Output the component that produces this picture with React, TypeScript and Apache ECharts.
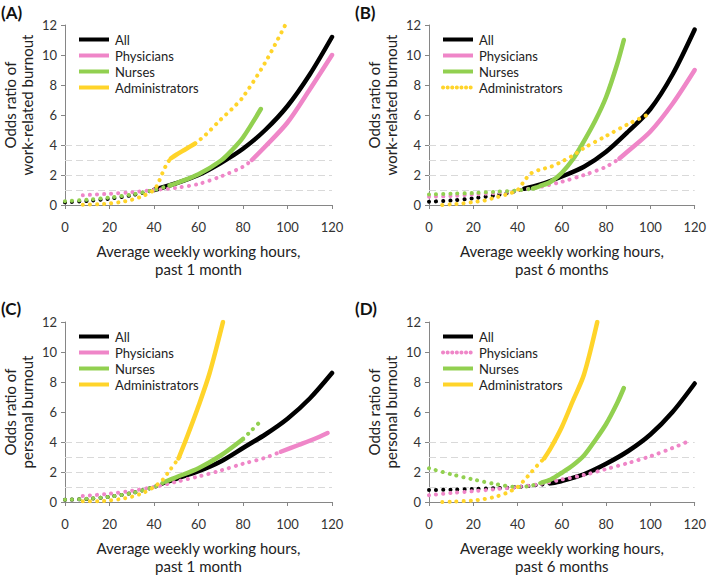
import React, { useEffect, useRef } from "react";
import * as echarts from "echarts";

type Pt = [number, number];

// ---- Shared labels ----
const groupNames = ["All", "Physicians", "Nurses", "Administrators"];
const groupColors = ["#000000", "#EF86C8", "#92D050", "#FFD42A"];
const panelKeys = ["A", "B", "C", "D"];
const panelTitles = ["(A)", "(B)", "(C)", "(D)"];
const yNames = [
  "Odds ratio of\nwork-related burnout",
  "Odds ratio of\nwork-related burnout",
  "Odds ratio of\npersonal burnout",
  "Odds ratio of\npersonal burnout",
];
const xNames = [
  "Average weekly working hours,\npast 1 month",
  "Average weekly working hours,\npast 6 months",
  "Average weekly working hours,\npast 1 month",
  "Average weekly working hours,\npast 6 months",
];
const refLevels = [1, 2, 3, 4];

// ---- Panel A: work-related burnout, past 1 month ----
const A_all: Pt[] = [[0,0.18],[10,0.27],[20,0.42],[30,0.65],[40,1.0],[50,1.45],[60,2.0],[70,2.8],[80,3.75],[90,5.0],[100,6.6],[110,8.7],[120,11.2]];
const A_allSolid: Pt[] = [[40,120]];
const A_phy: Pt[] = [[8,0.65],[20,0.75],[30,0.85],[40,1.0],[50,1.15],[60,1.4],[70,1.9],[80,2.55],[84,3.0],[90,3.9],[100,5.5],[110,7.7],[120,10.0]];
const A_phySolid: Pt[] = [[84,120]];
const A_nur: Pt[] = [[0,0.25],[10,0.35],[20,0.5],[30,0.7],[40,1.0],[47,1.3],[50,1.45],[60,2.05],[70,2.95],[75,3.65],[80,4.5],[88,6.4]];
const A_nurSolid: Pt[] = [[47,88]];
const A_adm: Pt[] = [[8,0.02],[15,0.05],[20,0.1],[25,0.2],[30,0.35],[35,0.6],[40,1.0],[42,1.5],[44,2.2],[46,2.8],[47.5,3.1],[50,3.35],[54,3.7],[58.5,4.1],[63,4.65],[70,5.7],[75,6.4],[80,7.2],[90,9.5],[99,12.0]];
const A_admSolid: Pt[] = [[47.5,58.5]];

// ---- Panel B: work-related burnout, past 6 months ----
const B_all: Pt[] = [[0,0.22],[10,0.3],[20,0.45],[30,0.65],[40,0.95],[43,1.08],[50,1.35],[60,1.9],[70,2.55],[80,3.55],[90,4.9],[100,6.4],[110,8.7],[120,11.7]];
const B_allSolid: Pt[] = [[43,120]];
const B_phy: Pt[] = [[0,0.55],[10,0.6],[20,0.7],[30,0.8],[40,0.97],[50,1.2],[60,1.55],[70,2.0],[80,2.55],[86,3.1],[90,3.6],[100,4.9],[110,6.75],[120,9.0]];
const B_phySolid: Pt[] = [[86,120]];
const B_nur: Pt[] = [[0,0.7],[10,0.75],[20,0.8],[30,0.88],[40,0.97],[47,1.1],[50,1.25],[55,1.55],[60,2.15],[65,3.05],[69,4.0],[75,5.6],[80,7.2],[85,9.4],[88,11.0]];
const B_nurSolid: Pt[] = [[47,88]];
const B_adm: Pt[] = [[6,0.0],[10,0.05],[15,0.1],[20,0.2],[25,0.3],[30,0.5],[35,0.7],[40,1.0],[43,1.6],[46,2.1],[50,2.35],[55,2.55],[60,2.9],[65,3.3],[70,3.8],[80,4.6],[90,5.4],[100,6.1]];
const B_admSolid: Pt[] = [];

// ---- Panel C: personal burnout, past 1 month ----
const C_all: Pt[] = [[0,0.15],[10,0.2],[20,0.35],[30,0.6],[40,1.0],[45,1.3],[50,1.55],[60,2.05],[70,2.7],[80,3.6],[90,4.5],[100,5.55],[110,6.9],[120,8.6]];
const C_allSolid: Pt[] = [[45,120]];
const C_phy: Pt[] = [[8,0.4],[20,0.55],[30,0.75],[40,1.0],[50,1.35],[60,1.7],[70,2.1],[80,2.55],[90,2.95],[97,3.35],[105,3.8],[112,4.2],[118,4.6]];
const C_phySolid: Pt[] = [[97,118]];
const C_nur: Pt[] = [[0,0.15],[10,0.22],[20,0.35],[30,0.6],[40,1.0],[45,1.35],[50,1.65],[60,2.25],[70,3.1],[80,4.2],[84,4.8],[88,5.4]];
const C_nurSolid: Pt[] = [[45,80]];
const C_adm: Pt[] = [[8,0.05],[15,0.05],[20,0.1],[25,0.2],[30,0.35],[35,0.6],[40,1.0],[44,1.5],[47,2.1],[51,2.9],[55,4.4],[60,6.4],[65,8.6],[71,12.0]];
const C_admSolid: Pt[] = [[51,71]];

// ---- Panel D: personal burnout, past 6 months ----
const D_all: Pt[] = [[0,0.8],[10,0.82],[20,0.87],[30,0.92],[40,1.0],[50,1.15],[55,1.25],[60,1.4],[70,1.85],[80,2.55],[90,3.4],[100,4.5],[110,6.0],[120,7.9]];
const D_allSolid: Pt[] = [[55,120]];
const D_phy: Pt[] = [[0,0.45],[10,0.6],[20,0.72],[30,0.85],[40,1.0],[50,1.2],[60,1.5],[70,1.8],[80,2.2],[90,2.6],[100,3.05],[110,3.6],[118,4.1]];
const D_phySolid: Pt[] = [];
const D_nur: Pt[] = [[0,2.25],[10,1.85],[20,1.5],[30,1.2],[40,1.0],[45,1.05],[51,1.3],[55,1.5],[60,1.95],[65,2.45],[70,3.1],[75,4.1],[80,5.2],[85,6.6],[88,7.6]];
const D_nurSolid: Pt[] = [[51,88]];
const D_adm: Pt[] = [[6,0.0],[10,0.02],[20,0.1],[25,0.2],[30,0.35],[35,0.6],[40,1.0],[43,1.45],[46,1.95],[49,2.45],[52,2.9],[55,3.6],[60,5.0],[65,6.75],[70,8.5],[76,12.0]];
const D_admSolid: Pt[] = [[52,76]];

const panelCurves: Pt[][][] = [
  [A_all, A_phy, A_nur, A_adm],
  [B_all, B_phy, B_nur, B_adm],
  [C_all, C_phy, C_nur, C_adm],
  [D_all, D_phy, D_nur, D_adm],
];
const panelSolids: Pt[][][] = [
  [A_allSolid, A_phySolid, A_nurSolid, A_admSolid],
  [B_allSolid, B_phySolid, B_nurSolid, B_admSolid],
  [C_allSolid, C_phySolid, C_nurSolid, C_admSolid],
  [D_allSolid, D_phySolid, D_nurSolid, D_admSolid],
];

// ---- Layout (pixels) ----
const grids = [
  { left: 64, top: 25, width: 268, height: 180 },
  { left: 429, top: 25, width: 268, height: 180 },
  { left: 64, top: 322, width: 268, height: 180 },
  { left: 429, top: 322, width: 268, height: 180 },
];
const titlePos = [
  { left: 1, top: 2 },
  { left: 355, top: 2 },
  { left: 1, top: 298 },
  { left: 355, top: 298 },
];
const legendPos = [
  { left: 72, top: 28 },
  { left: 436, top: 28 },
  { left: 72, top: 325 },
  { left: 436, top: 325 },
];

const FONT = "Lato";
const DOT: number[] = [0.1, 7];
const LINE_W = 4.5;

const inRange = (x: number, r: Pt) => x >= r[0] - 1e-9 && x <= r[1] + 1e-9;

function dottedData(pts: Pt[], solid: Pt[]) {
  const out: any[] = [];
  for (let i = 0; i < pts.length; i++) {
    out.push(pts[i]);
    if (i < pts.length - 1) {
      const a = pts[i][0];
      const b = pts[i + 1][0];
      if (solid.some((r) => inRange(a, r) && inRange(b, r))) {
        out.push([(a + b) / 2, "-"]);
      }
    }
  }
  return out;
}

function solidData(pts: Pt[], solid: Pt[]) {
  const out: any[] = [];
  solid.forEach((r, k) => {
    if (k > 0) out.push([(r[0] + solid[k - 1][1]) / 2, "-"]);
    pts.forEach((p) => {
      if (inRange(p[0], r)) out.push(p);
    });
  });
  return out;
}

function buildOption() {
  const series: any[] = [];
  const legends: any[] = [];
  const xAxes: any[] = [];
  const yAxes: any[] = [];
  const titles: any[] = [];

  panelKeys.forEach((key, pi) => {
    titles.push({
      text: panelTitles[pi],
      ...titlePos[pi],
      padding: 0,
      textStyle: { fontFamily: FONT, fontSize: 17, fontWeight: "bold", color: "#111", lineHeight: 20 },
    });
    xAxes.push({
      gridIndex: pi,
      type: "value",
      min: 0,
      max: 120,
      interval: 20,
      name: xNames[pi],
      nameLocation: "middle",
      nameGap: 37,
      nameTextStyle: { fontFamily: FONT, fontSize: 15, lineHeight: 18, color: "#222" },
      axisLine: { lineStyle: { color: "#868686", width: 1 } },
      axisTick: { show: true, length: 4, lineStyle: { color: "#868686" } },
      axisLabel: { fontFamily: FONT, fontSize: 13, color: "#333", margin: 15 },
      splitLine: { show: false },
    });
    yAxes.push({
      gridIndex: pi,
      type: "value",
      min: 0,
      max: 12,
      interval: 2,
      name: yNames[pi],
      nameLocation: "middle",
      nameGap: 30,
      nameTextStyle: {
        fontFamily: FONT,
        fontSize: 15,
        lineHeight: 17,
        color: "#222",
        padding: pi < 2 ? [0, 0, 0, 20] : 0,
      },
      axisLine: { show: true, lineStyle: { color: "#868686", width: 1 } },
      axisTick: { show: true, length: 4, lineStyle: { color: "#868686" } },
      axisLabel: { fontFamily: FONT, fontSize: 13, color: "#333", margin: 8 },
      splitLine: { show: false },
    });

    const legendData: any[] = [];
    groupNames.forEach((g, gi) => {
      const name = key + "|" + g;
      const pts = panelCurves[pi][gi];
      const solid = panelSolids[pi][gi];
      const color = groupColors[gi];
      const dotted: any = {
        type: "line",
        name,
        xAxisIndex: pi,
        yAxisIndex: pi,
        data: dottedData(pts, solid),
        smooth: 0.3,
        symbol: "none",
        connectNulls: false,
        silent: true,
        z: 3,
        lineStyle: { color, width: 4, type: DOT, cap: "round" },
        itemStyle: { color },
      };
      if (gi === 0) {
        dotted.markLine = {
          silent: true,
          z: 1,
          symbol: ["none", "none"],
          label: { show: false },
          lineStyle: { color: "#D9D9D9", type: [7, 4], width: 1 },
          emphasis: { disabled: true },
          data: refLevels.map((v) => ({ yAxis: v })),
        };
      }
      series.push(dotted);
      if (solid.length) {
        series.push({
          type: "line",
          name,
          xAxisIndex: pi,
          yAxisIndex: pi,
          data: solidData(pts, solid),
          smooth: 0.3,
          symbol: "none",
          connectNulls: false,
          silent: true,
          z: 3,
          lineStyle: { color, width: LINE_W, type: "solid", cap: "round" },
          itemStyle: { color },
        });
      }
      legendData.push({
        name,
        itemStyle: { opacity: 0, borderWidth: 0 },
        lineStyle: solid.length
          ? { color, width: 4, type: "solid", cap: "butt", opacity: 1 }
          : { color, width: 4, type: [0.1, 4.5], cap: "round", opacity: 1 },
      });
    });
    legends.push({
      ...legendPos[pi],
      orient: "vertical",
      itemWidth: 30,
      itemHeight: 12,
      itemGap: 3,
      selectedMode: false,
      data: legendData,
      formatter: (n: string) => n.split("|")[1],
      textStyle: { fontFamily: FONT, fontSize: 13, color: "#222", padding: [0, 0, 0, 1] },
    });
  });

  return {
    animation: false,
    backgroundColor: "#ffffff",
    title: titles,
    legend: legends,
    grid: grids,
    xAxis: xAxes,
    yAxis: yAxes,
    series,
  };
}

export default function App() {
  const ref = useRef<HTMLDivElement>(null);
  useEffect(() => {
    if (!ref.current) return;
    const chart = echarts.init(ref.current, undefined, { renderer: "svg" });
    chart.setOption(buildOption() as any);
    return () => chart.dispose();
  }, []);
  return (
    <div
      ref={ref}
      style={{ position: "fixed", left: 0, top: 0, width: 709, height: 578, background: "#fff" }}
    />
  );
}
